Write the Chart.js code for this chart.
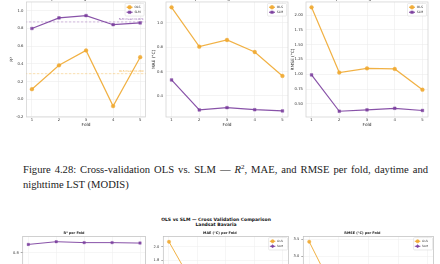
<!DOCTYPE html>
<html><head><meta charset="utf-8">
<script src="https://cdn.jsdelivr.net/npm/chart.js@4.4.1/dist/chart.umd.min.js"></script>
<style>
html,body{margin:0;padding:0;width:440px;height:264px;overflow:hidden;background:#fff;position:relative;}
canvas{position:absolute;}
.cap{position:absolute;left:23px;width:405px;font-family:"Liberation Serif","Times New Roman",serif;font-size:10.6px;line-height:15px;color:#222;white-space:nowrap;}
.cap1{top:162px;text-align:justify;text-align-last:justify;}
.cap2{top:177px;}
.cap sup{font-size:7px;vertical-align:4px;line-height:0;}
.sup{position:absolute;left:146px;width:140px;text-align:center;font-family:"DejaVu Sans",sans-serif;font-weight:bold;font-size:4.5px;line-height:4.6px;top:218px;color:#111;}
</style></head><body>
<div class="cap cap1">Figure 4.28: Cross-validation OLS vs. SLM — <i>R</i><sup>2</sup>, MAE, and RMSE per fold, daytime and</div>
<div class="cap cap2">nighttime LST (MODIS)</div>
<div class="sup">OLS vs SLM — Cross Validation Comparison<br>Landsat Bavaria</div>
<script>
// ---------- data ----------
const folds = [1, 2, 3, 4, 5];
// MODIS nighttime (top row)
const r2Ols   = [0.114, 0.384, 0.552, -0.077, 0.476];
const r2Slm   = [0.800, 0.920, 0.946, 0.843, 0.863];
const maeOls  = [1.129, 0.805, 0.860, 0.761, 0.564];
const maeSlm  = [0.531, 0.284, 0.303, 0.286, 0.276];
const rmseOls = [2.13, 1.03, 1.10, 1.09, 0.74];
const rmseSlm = [0.99, 0.377, 0.40, 0.427, 0.39];
const r2Ticks   = [-0.2, 0.0, 0.2, 0.4, 0.6, 0.8, 1.0];
const maeTicks  = [0.4, 0.6, 0.8, 1.0];
const rmseTicks = [0.5, 0.75, 1.0, 1.25, 1.5, 1.75, 2.0];
// Landsat Bavaria (bottom row, partly visible)
const lsR2Ols   = [0.42, 0.55, 0.50, 0.47, 0.52];
const lsR2Slm   = [0.855, 0.873, 0.867, 0.867, 0.864];
const lsMaeOls  = [2.07, 1.34, 1.28, 1.25, 1.22];
const lsMaeSlm  = [0.85, 0.62, 0.60, 0.63, 0.61];
const lsRmseOls = [3.43, 1.70, 1.62, 1.60, 1.55];
const lsRmseSlm = [1.30, 0.85, 0.82, 0.86, 0.83];
const lsR2Ticks   = [0.2, 0.4, 0.6, 0.8];
const lsMaeTicks  = [0.6, 0.8, 1.0, 1.2, 1.4, 1.6, 1.8, 2.0];
const lsRmseTicks = [0.5, 1.0, 1.5, 2.0, 2.5, 3.0, 3.5];

const C_OLS = 'rgba(240,168,48,0.9)';
const C_SLM = 'rgba(123,63,158,0.9)';
const FONT = '"DejaVu Sans", sans-serif';
const mean = a => a.reduce((s, v) => s + v, 0) / a.length;
const pts = vals => folds.map((f, i) => ({x: f, y: vals[i]}));

// ---------- plugins ----------
const framePlugin = {
  id: 'frame',
  beforeDatasetsDraw(chart, args, o) {
    if (!o || !o.color) return;
    const a = chart.chartArea, ctx = chart.ctx;
    ctx.save(); ctx.strokeStyle = o.color; ctx.lineWidth = o.width || 0.7;
    ctx.strokeRect(a.left, a.top, a.right - a.left, a.bottom - a.top);
    ctx.restore();
  }
};
const mplLegend = {
  id: 'mplLegend',
  afterDraw(chart, args, o) {
    if (!o || !o.show) return;
    const ctx = chart.ctx, a = chart.chartArea;
    const items = chart.data.datasets.filter(d => d.inLegend);
    const x1 = a.right - o.mr - o.w, y1 = a.top + o.mt;
    const h = o.pad * 2 + items.length * o.row;
    ctx.save();
    ctx.fillStyle = 'rgba(255,255,255,0.85)'; ctx.strokeStyle = '#d6d6d6'; ctx.lineWidth = 0.5;
    ctx.beginPath(); ctx.roundRect(x1, y1, o.w, h, 1); ctx.fill(); ctx.stroke();
    items.forEach((d, i) => {
      const y = y1 + o.pad + o.row * (i + 0.5);
      ctx.strokeStyle = d.borderColor; ctx.lineWidth = d.borderWidth;
      ctx.beginPath(); ctx.moveTo(x1 + o.lx0, y); ctx.lineTo(x1 + o.lx1, y); ctx.stroke();
      ctx.fillStyle = d.pointBackgroundColor; ctx.strokeStyle = d.pointBorderColor; ctx.lineWidth = 0.4;
      Chart.helpers.drawPoint(ctx, {pointStyle: d.pointStyle, radius: d.pointRadius, borderWidth: 0.4, rotation: 0}, (2 * x1 + o.lx0 + o.lx1) / 2, y);
      ctx.fillStyle = '#333'; ctx.font = o.fs + 'px ' + FONT; ctx.textBaseline = 'middle'; ctx.textAlign = 'left';
      ctx.fillText(d.label, x1 + o.tx, y);
    });
    ctx.restore();
  }
};
const meanLabels = {
  id: 'meanLabels',
  afterDatasetsDraw(chart, args, o) {
    if (!o || !o.items) return;
    const ctx = chart.ctx, a = chart.chartArea, ys = chart.scales.y;
    ctx.save(); ctx.font = o.fs + 'px ' + FONT; ctx.textAlign = 'right'; ctx.textBaseline = 'bottom';
    o.items.forEach(it => {
      ctx.fillStyle = it.color;
      ctx.fillText(it.text, a.right - 2, ys.getPixelForValue(it.val) - 0.8);
    });
    ctx.restore();
  }
};
Chart.register(framePlugin, mplLegend, meanLabels);

function panel(p) {
  const cv = document.createElement('canvas');
  cv.width = p.w; cv.height = p.h;
  cv.style.left = p.left + 'px'; cv.style.top = p.top + 'px';
  document.body.appendChild(cv);
  const datasets = p.series.map(s => ({
    label: s.label, data: pts(s.vals), borderColor: s.color, backgroundColor: s.color,
    pointBackgroundColor: s.color, pointBorderColor: s.color, pointStyle: s.style,
    pointRadius: p.prad, pointBorderWidth: 0.4, borderWidth: p.lw, inLegend: true, tension: 0
  }));
  (p.means || []).forEach(m => datasets.push({
    label: m.label, data: [{x: 0, y: m.val}, {x: 6, y: m.val}], borderColor: m.color,
    borderWidth: 0.7, borderDash: [2.5, 1.5], pointRadius: 0, inLegend: false
  }));
  const tickFont = {size: p.tfs, family: FONT};
  const axisTitleFont = {size: p.afs, family: FONT};
  const grid = {color: p.gridColor, lineWidth: 0.5, drawTicks: p.marks, tickLength: 2, tickColor: '#555'};
  new Chart(cv, {
    type: 'line',
    data: {datasets},
    options: {
      responsive: false, animation: false, events: [],
      layout: {padding: {left: p.pl, right: p.pr, top: 0, bottom: 0}},
      plugins: {
        legend: {display: false}, tooltip: {enabled: false},
        title: {display: true, text: p.title, color: '#222',
          font: {size: p.titleSize, family: FONT, weight: p.titleWeight, lineHeight: 1.2},
          padding: {top: p.titleTop, bottom: p.titleBottom}},
        frame: {color: p.frameColor, width: 0.7},
        mplLegend: p.legend,
        meanLabels: p.meanLabels || {}
      },
      scales: {
        x: {
          type: 'linear', min: 0.8, max: 5.2, bounds: 'data',
          afterBuildTicks: s => { s.ticks = folds.map(v => ({value: v})); },
          afterFit: s => { s.height = p.xh; },
          grid, border: {display: false},
          ticks: {font: tickFont, color: '#333', padding: p.tpad, maxRotation: 0, autoSkip: false, callback: v => String(v)},
          title: {display: true, text: 'Fold', color: '#222', font: axisTitleFont, padding: {top: 0, bottom: p.xtb}}
        },
        y: {
          type: 'linear', min: p.ymin, max: p.ymax, bounds: 'data',
          afterBuildTicks: s => { s.ticks = p.yticks.map(v => ({value: v})); },
          afterFit: s => { s.width = p.yw; },
          grid, border: {display: false},
          ticks: {font: tickFont, color: '#333', padding: p.ytpad, autoSkip: false, callback: v => v.toFixed(p.dec)},
          title: {display: true, text: p.ytitle, color: '#222', font: axisTitleFont, padding: 0}
        }
      }
    }
  });
}

const topBase = {
  top: -4, h: 134, xh: 13, titleSize: 4.8, titleWeight: 'normal', titleTop: 0, titleBottom: 0.2,
  tfs: 3.8, afs: 4.3, tpad: 1.2, ytpad: 3, xtb: 2.3, marks: false, gridColor: '#e9e9e9',
  frameColor: '#cfcfcf', prad: 1.9, lw: 1.2
};
const topLegend = {show: true, w: 19, mr: 1.5, mt: 1.5, pad: 1.3, row: 5, lx0: 1.5, lx1: 7.5, tx: 9.3, fs: 3.1};

panel(Object.assign({}, topBase, {
  left: 0, w: 150, pl: 9.3, yw: 17.2, pr: 2.5,
  title: 'R² per Fold — Nighttime LST', ytitle: 'R²', ymin: -0.2, ymax: 1.1, yticks: r2Ticks, dec: 1,
  series: [{label: 'OLS', vals: r2Ols, color: C_OLS, style: 'circle'}, {label: 'SLM', vals: r2Slm, color: C_SLM, style: 'rect'}],
  means: [{label: 'OLS mean', val: mean(r2Ols), color: 'rgba(240,168,48,0.55)'}, {label: 'SLM mean', val: mean(r2Slm), color: 'rgba(123,63,158,0.55)'}],
  meanLabels: {fs: 2.8, items: [
    {text: 'OLS mean=' + mean(r2Ols).toFixed(3), val: mean(r2Ols), color: 'rgba(240,168,48,0.8)'},
    {text: 'SLM mean=' + mean(r2Slm).toFixed(3), val: mean(r2Slm), color: 'rgba(123,63,158,0.8)'}]},
  legend: topLegend
}));
panel(Object.assign({}, topBase, {
  left: 148, w: 145, pl: 3, yw: 15, pr: 5,
  title: 'MAE per Fold — Nighttime LST', ytitle: 'MAE (°C)', ymin: 0.226, ymax: 1.173, yticks: maeTicks, dec: 1,
  series: [{label: 'OLS', vals: maeOls, color: C_OLS, style: 'circle'}, {label: 'SLM', vals: maeSlm, color: C_SLM, style: 'rect'}],
  legend: topLegend
}));
panel(Object.assign({}, topBase, {
  left: 287, w: 150, pl: 3.3, yw: 15.7, pr: 9,
  title: 'RMSE per Fold — Nighttime LST', ytitle: 'RMSE (°C)', ymin: 0.28, ymax: 2.22, yticks: rmseTicks, dec: 2,
  series: [{label: 'OLS', vals: rmseOls, color: C_OLS, style: 'circle'}, {label: 'SLM', vals: rmseSlm, color: C_SLM, style: 'rect'}],
  legend: topLegend
}));

const botBase = {
  top: 225, h: 140, xh: 13, titleSize: 3.4, titleWeight: 'bold', titleTop: 6.5, titleBottom: 1,
  tfs: 3.6, afs: 4, tpad: 1.5, ytpad: 2, xtb: 1, marks: true, gridColor: '#ececec',
  frameColor: '#bdbdbd', prad: 1.7, lw: 1.0
};
const botLegend = {show: true, w: 19, mr: 1, mt: 1, pad: 1.2, row: 5, lx0: 1.2, lx1: 6.8, tx: 8.5, fs: 2.9};

panel(Object.assign({}, botBase, {
  left: 0, w: 150, pl: 1.3, yw: 21.4, pr: 3.3,
  title: 'R² per Fold', ytitle: 'R²', ymin: 0.142, ymax: 0.907, yticks: lsR2Ticks, dec: 1,
  series: [{label: 'OLS', vals: lsR2Ols, color: C_OLS, style: 'circle'}, {label: 'SLM', vals: lsR2Slm, color: C_SLM, style: 'rect'}],
  legend: {show: false}
}));
panel(Object.assign({}, botBase, {
  left: 148, w: 145, pl: 1, yw: 14.3, pr: 2.3,
  title: 'MAE (°C) per Fold', ytitle: 'MAE (°C)', ymin: 0.47, ymax: 2.146, yticks: lsMaeTicks, dec: 1,
  series: [{label: 'OLS', vals: lsMaeOls, color: C_OLS, style: 'circle'}, {label: 'SLM', vals: lsMaeSlm, color: C_SLM, style: 'rectRot'}],
  legend: botLegend
}));
panel(Object.assign({}, botBase, {
  left: 288, w: 150, pl: 1, yw: 14.3, pr: 2.3,
  title: 'RMSE (°C) per Fold', ytitle: 'RMSE (°C)', ymin: 0.2, ymax: 3.58, yticks: lsRmseTicks, dec: 1,
  series: [{label: 'OLS', vals: lsRmseOls, color: C_OLS, style: 'circle'}, {label: 'SLM', vals: lsRmseSlm, color: C_SLM, style: 'rectRot'}],
  legend: botLegend
}));
</script>
</body></html>
